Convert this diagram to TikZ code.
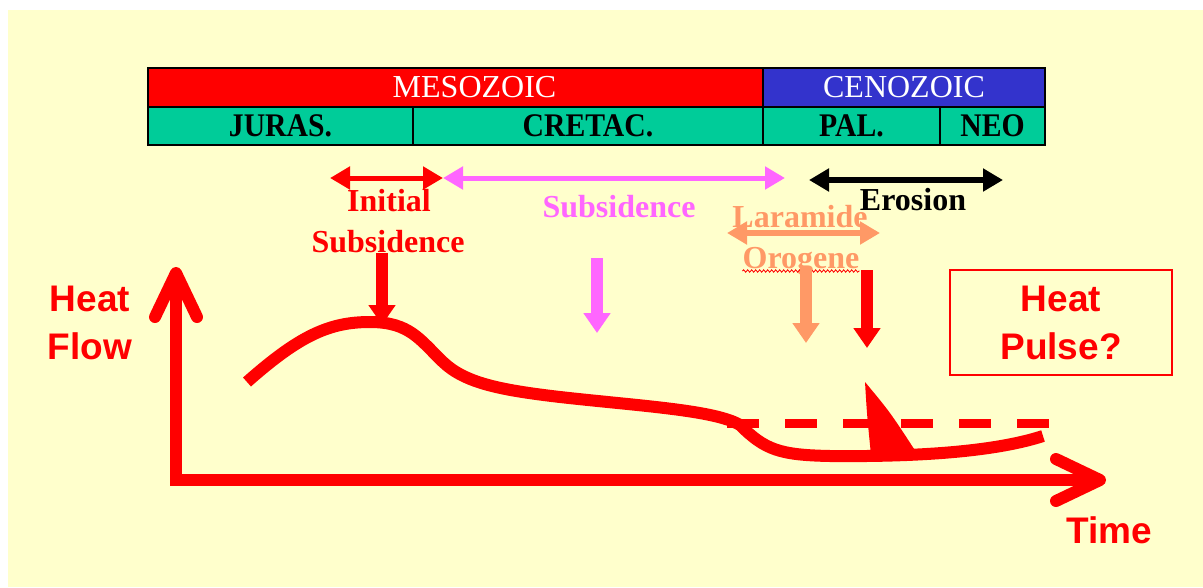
\documentclass[tikz,border=0pt]{standalone}
\usepackage{fontspec}
\setmainfont{Liberation Serif}
\setsansfont{Liberation Sans}
\newfontfamily\barfont[FakeStretch=0.9]{Liberation Serif}
\usetikzlibrary{arrows.meta,positioning,calc,decorations.pathmorphing}
\definecolor{bgyellow}{HTML}{FFFFCC}
\definecolor{mesored}{HTML}{FF0000}
\definecolor{cenoblue}{HTML}{3333CC}
\definecolor{periodgreen}{HTML}{00CC99}
\definecolor{subsmagenta}{HTML}{FF66FF}
\definecolor{laramide}{HTML}{FF9966}

\begin{document}
\begin{tikzpicture}[x=1pt,y=-1pt,
    era/.style={draw=black, line width=1.5pt, outer sep=0pt, inner sep=0pt,
        minimum height=39pt, text=white, font=\fontsize{32}{38}\selectfont},
    period/.style={draw=black, line width=1.5pt, outer sep=0pt, inner sep=0pt,
        fill=periodgreen, minimum height=38pt, font=\barfont\bfseries\fontsize{33}{38}\selectfont},
    lbl/.style={inner sep=0pt, anchor=base, font=\bfseries\fontsize{32}{38}\selectfont},
    big/.style={inner sep=0pt, align=center, text=red, font=\sffamily\bfseries\fontsize{37}{48}\selectfont},
    span/.style={line width=5pt, {Triangle[length=20pt,width=22pt]}-{Triangle[length=20pt,width=22pt]}},
    drop/.style={line width=12pt, -{Triangle[length=20pt,width=26pt]}},
    axis/.style={red, line width=12pt, miter limit=4,
        {Straight Barb[length=44pt,width=42pt,round]}-{Straight Barb[length=44pt,width=42pt,round]}},
    heatcurve/.style={red, line width=12pt}]

    % Page and slide background
    \fill[white] (0,0) rectangle (1203,587);
    \fill[bgyellow] (8,10) rectangle (1203,587);
    \useasboundingbox (0,0) rectangle (1203,587);

    % Time scale bar: eras and periods
    \node[era, fill=mesored, minimum width=615pt, anchor=north west] (meso) at (148,68) {\hspace*{38pt}MESOZOIC};
    \node[era, fill=cenoblue, minimum width=282pt, right=0pt of meso] (ceno) {CENOZOIC};
    \node[period, minimum width=265pt, anchor=north west] (juras) at (meso.south west) {JURAS.};
    \node[period, minimum width=350pt, right=0pt of juras] (cretac) {CRETAC.};
    \node[period, minimum width=177pt, right=0pt of cretac] (pal) {PAL.};
    \node[period, minimum width=105pt, right=0pt of pal] (neo) {NEO};

    % Event labels
    \node[lbl, red] (initial) at (389,211) {Initial};
    \node[lbl, red] (initsub) at (388,252) {Subsidence};
    \node[lbl, subsmagenta] (subs) at (619,217) {Subsidence};
    \node[lbl, black] (erosion) at (913,210) {Erosion};
    \node[lbl, laramide] (lara) at (800,227) {Laramide};
    \node[lbl, laramide] (orog) at (801,268) {Orogene};
    \draw[red, line width=0.8pt, decorate, decoration={snake, segment length=4pt, amplitude=1.2pt}]
        ($(orog.base west)+(0,3)$) -- ($(orog.base east)+(0,3)$);

    % Duration arrows
    \coordinate (ini-l) at (330,178);
    \coordinate (ini-r) at (443,178);
    \coordinate (sub-r) at (785,178);
    \coordinate (ero-l) at (809,180);
    \coordinate (ero-r) at (1003,180);
    \coordinate (lar-l) at (727,233);
    \coordinate (lar-r) at (880,233);
    \draw[span, red] (ini-l) -- (ini-r);
    \draw[span, subsmagenta] (ini-r) -- (sub-r);
    \draw[span, black, line width=6pt] (ero-l) -- (ero-r);
    \draw[span, laramide, line width=6pt] (lar-l) -- (lar-r);

    % Downward arrows onto the curve
    \draw[drop, red] (382,253) -- (382,325);
    \draw[drop, subsmagenta] (597,258) -- (597,333);
    \draw[drop, laramide] (806,267) -- (806,343);
    \draw[drop, red] (867,270) -- (867,348);

    % Heat flow history
    \draw[heatcurve] (247,382) .. controls (300,335) and (330,322) .. (370,322)
        .. controls (410,322) and (420,340) .. (443,362)
        .. controls (465,383) and (500,390) .. (560,397)
        .. controls (640,406) and (715,410) .. (740,425)
        .. controls (765,450) and (780,455) .. (830,456)
        .. controls (930,457) and (1000,450) .. (1043,436);
    \draw[red, line width=9pt, dash pattern=on 32pt off 26pt] (727,423) -- (1049,423);
    \fill[red] (865,382) .. controls (867,415) .. (871,455) -- (918,455)
        .. controls (890,412) .. cycle;

    % Axes
    \coordinate (origin) at (176,480);
    \coordinate (ytip) at (176,267);
    \coordinate (xtip) at (1106,480);
    \draw[axis] (ytip) -- (origin) -- (xtip);
    \node[big] (hflow) at (90,323) {Heat\\Flow};
    \node[big, anchor=base] (time) at (1109,543) {Time};

    % Heat pulse box
    \node[big, draw=red, line width=1.2pt, minimum width=222pt, minimum height=105pt] (pulse)
        at (1061,322.5) {Heat\\Pulse?};
\end{tikzpicture}
\end{document}
